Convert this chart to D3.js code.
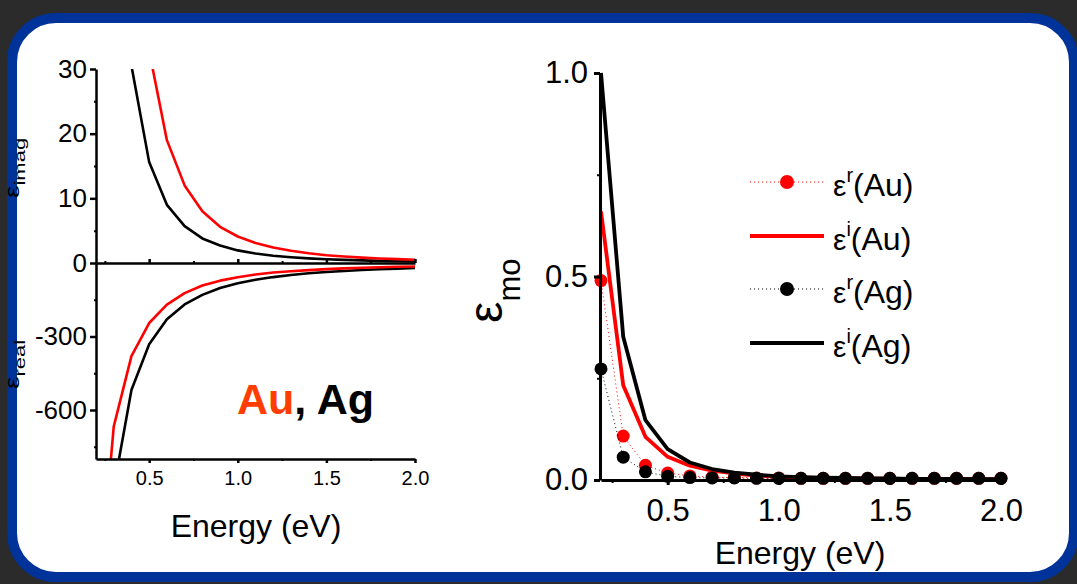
<!DOCTYPE html>
<html lang="en">
<head>
<meta charset="UTF-8">
<title>Au, Ag dielectric functions</title>
<script src="https://d3js.org/d3.v7.min.js"></script>
<style>
  body { margin: 0; background: #2b2b2b; }
  svg { display: block; }
  text { font-family: "Liberation Sans", Arial, sans-serif; fill: #000; }
  .axis path, .axis line { stroke: #000; }
</style>
</head>
<body>
<svg width="1077" height="584"></svg>
<script>
// photon energy (eV), same grid for every series
const energy = [0.2, 0.3, 0.4, 0.5, 0.6, 0.7, 0.8, 0.9, 1.0, 1.1, 1.2, 1.3, 1.4, 1.5, 1.6, 1.7, 1.8, 1.9, 2.0];

// left panel: eps_imag (top) and eps_real (bottom)
const auImag = [512, 152, 64, 32.8, 19.0, 12.0, 8.0, 5.6, 4.1, 3.1, 2.4, 1.9, 1.5, 1.2, 1.0, 0.83, 0.70, 0.60, 0.51];
const agImag = [244, 72, 30.5, 15.6, 9.0, 5.7, 3.8, 2.7, 1.95, 1.47, 1.13, 0.89, 0.71, 0.58, 0.48, 0.40, 0.33, 0.28, 0.24];
const auReal = [-1500, -668, -380, -245, -170, -123, -92, -72, -58, -47, -39, -33.5, -29, -25, -22, -19.5, -17.5, -15.5, -14];
const agReal = [-2070, -920, -518, -332, -230, -169, -130, -102, -83, -68.5, -57.5, -49, -42, -37, -32.5, -28.7, -25.6, -23, -20.7];

// right panel: eps_mo
const auR = [0.49, 0.108, 0.036, 0.017, 0.010, 0.007, 0.006, 0.005, 0.005, 0.004, 0.004, 0.004, 0.004, 0.004, 0.004, 0.004, 0.004, 0.004, 0.004];
const agR = [0.273, 0.056, 0.020, 0.009, 0.006, 0.005, 0.005, 0.004, 0.004, 0.004, 0.004, 0.004, 0.004, 0.004, 0.004, 0.004, 0.004, 0.004, 0.004];
const auI = [0.66, 0.233, 0.106, 0.057, 0.035, 0.023, 0.016, 0.011, 0.008, 0.006, 0.005, 0.004, 0.004, 0.003, 0.003, 0.003, 0.002, 0.002, 0.002];
const agI = [1.0, 0.352, 0.147, 0.076, 0.043, 0.027, 0.018, 0.013, 0.009, 0.007, 0.006, 0.005, 0.004, 0.004, 0.003, 0.003, 0.003, 0.002, 0.002];

const xTicks = [0.5, 1.0, 1.5, 2.0];
const xMinor = [0.25, 0.75, 1.25, 1.75];
const legendMetal = ["Au", "Au", "Ag", "Ag"];
const legendSup = ["r", "i", "r", "i"];

const RED = "#ff0000", BLACK = "#000000";
const svg = d3.select("svg");
// plain hyphen for negative labels, like the original
const hyphen = d => String(d).replace("\u2212", "-");

// frame
svg.append("rect").attr("width", 1077).attr("height", 584).attr("fill", "#2b2b2b");
svg.append("rect")
    .attr("x", 12).attr("y", 18).attr("width", 1062).attr("height", 559)
    .attr("rx", 44).attr("ry", 44)
    .attr("fill", "#fff").attr("stroke", "#003399").attr("stroke-width", 10);

const defs = svg.append("defs");
function clip(id, x, y, w, h) {
    defs.append("clipPath").attr("id", id).append("rect")
        .attr("x", x).attr("y", y).attr("width", w).attr("height", h);
    return "url(#" + id + ")";
}

// ---------- left panel ----------
const xL = d3.scaleLinear().domain([0.2, 2.0]).range([96, 415]);
const yTop = d3.scaleLinear().domain([0, 30]).range([263, 69]);
const yBot = d3.scaleLinear().domain([-800, 0]).range([459, 263]);

const left = svg.append("g");
const clipTop = clip("cTop", 96, 69, 322, 194);
const clipBot = clip("cBot", 96, 263, 322, 196);

function drawLine(g, xs, ys, vals, color, w, clipUrl) {
    const line = d3.line().x((d, i) => xs(energy[i])).y(d => ys(d));
    g.append("path").datum(vals)
        .attr("d", line)
        .attr("fill", "none").attr("stroke", color).attr("stroke-width", w)
        .attr("stroke-linejoin", "round")
        .attr("clip-path", clipUrl);
}

drawLine(left, xL, yTop, agImag, BLACK, 2.6, clipTop);
drawLine(left, xL, yTop, auImag, RED, 2.6, clipTop);
drawLine(left, xL, yBot, agReal, BLACK, 2.6, clipBot);
drawLine(left, xL, yBot, auReal, RED, 2.6, clipBot);

function styleAxis(g, w) {
    g.attr("class", "axis");
    g.selectAll("path, line").attr("stroke-width", w);
    return g;
}

// left x axis (bottom), ticks outward
const lb = left.append("g").attr("transform", "translate(0,459)")
    .call(d3.axisBottom(xL).tickValues(xTicks).tickFormat(d3.format(".1f")).tickSize(4).tickSizeOuter(0));
styleAxis(lb, 2.5);
lb.selectAll("text").attr("dy", null).attr("y", 26).attr("font-size", 20);
left.append("g").attr("transform", "translate(0,459)")
    .call(d3.axisBottom(xL).tickValues(xMinor).tickFormat("").tickSize(2).tickSizeOuter(0))
    .call(g => styleAxis(g, 2).select(".domain").remove());

// zero line with upward ticks
const lz = left.append("g").attr("transform", "translate(0,263)")
    .call(d3.axisTop(xL).tickValues(xTicks).tickFormat("").tickSize(4).tickSizeOuter(0));
styleAxis(lz, 2.5);
left.append("g").attr("transform", "translate(0,263)")
    .call(d3.axisTop(xL).tickValues(xMinor).tickFormat("").tickSize(2).tickSizeOuter(0))
    .call(g => styleAxis(g, 2).select(".domain").remove());

// left y axes
const ly1 = left.append("g").attr("transform", "translate(96,0)")
    .call(d3.axisLeft(yTop).tickValues([0, 10, 20, 30]).tickSize(6).tickSizeOuter(0).tickPadding(3));
styleAxis(ly1, 2.5);
ly1.selectAll("text").attr("font-size", 26);
const ly2 = left.append("g").attr("transform", "translate(96,0)")
    .call(d3.axisLeft(yBot).tickValues([-300, -600]).tickFormat(hyphen).tickSize(6).tickSizeOuter(0).tickPadding(3));
styleAxis(ly2, 2.5);
ly2.selectAll("text").attr("font-size", 26);
left.append("g").attr("transform", "translate(96,0)")
    .call(d3.axisLeft(yTop).tickValues([5, 15, 25]).tickFormat("").tickSize(2))
    .call(g => styleAxis(g, 2).select(".domain").remove());
left.append("g").attr("transform", "translate(96,0)")
    .call(d3.axisLeft(yBot).tickValues([-150, -450, -750]).tickFormat("").tickSize(2))
    .call(g => styleAxis(g, 2).select(".domain").remove());

left.append("text").attr("x", 256).attr("y", 537).attr("text-anchor", "middle")
    .attr("font-size", 32).text("Energy (eV)");

const auag = left.append("text").attr("x", 237).attr("y", 414)
    .attr("font-size", 43).attr("font-weight", "bold");
auag.append("tspan").attr("fill", "#ff3d00").text("Au");
auag.append("tspan").attr("fill", "#000").text(", Ag");

// rotated eps labels (squeezed like the original), laid over the frame edge
function epsLabel(y, sub) {
    const t = svg.append("text")
        .attr("transform", "translate(25," + y + ") rotate(-90) scale(1,0.7)");
    t.append("tspan").attr("font-size", 28).attr("dy", -9).text("\u03b5");
    t.append("tspan").attr("font-size", 22).attr("dy", 9).text(sub);
}
epsLabel(198, "imag");
epsLabel(389, "real");

// ---------- right panel ----------
const xR = d3.scaleLinear().domain([0.2, 2.0]).range([601, 1001]);
const yR = d3.scaleLinear().domain([0, 1.0]).range([480, 73]);
const right = svg.append("g");

function drawDots(vals, color) {
    const line = d3.line().x((d, i) => xR(energy[i])).y(d => yR(d));
    right.append("path").datum(vals).attr("d", line)
        .attr("fill", "none").attr("stroke", color).attr("stroke-width", 1)
        .attr("stroke-dasharray", "1,3");
    right.append("g").selectAll("circle").data(vals).join("circle")
        .attr("cx", (d, i) => xR(energy[i])).attr("cy", d => yR(d))
        .attr("r", 6.5).attr("fill", color);
}
function drawRLine(vals, color) {
    const line = d3.line().x((d, i) => xR(energy[i])).y(d => yR(d));
    right.append("path").datum(vals).attr("d", line)
        .attr("fill", "none").attr("stroke", color).attr("stroke-width", 3.8)
        .attr("stroke-linejoin", "round");
}
drawDots(auR, RED);
drawRLine(auI, RED);
drawDots(agR, BLACK);
drawRLine(agI, BLACK);

const rb = right.append("g").attr("transform", "translate(0,480)")
    .call(d3.axisBottom(xR).tickValues(xTicks).tickFormat(d3.format(".1f")).tickSize(5).tickSizeOuter(0));
styleAxis(rb, 3);
rb.selectAll("text").attr("dy", null).attr("y", 41).attr("font-size", 31);
right.append("g").attr("transform", "translate(0,480)")
    .call(d3.axisBottom(xR).tickValues(xMinor).tickFormat("").tickSize(3).tickSizeOuter(0))
    .call(g => styleAxis(g, 2).select(".domain").remove());

const ry = right.append("g").attr("transform", "translate(600,0)")
    .call(d3.axisLeft(yR).tickValues([0, 0.5, 1.0]).tickFormat(d3.format(".1f")).tickSize(6).tickSizeOuter(0).tickPadding(6));
styleAxis(ry, 3);
ry.selectAll("text").attr("font-size", 31);
right.append("g").attr("transform", "translate(600,0)")
    .call(d3.axisLeft(yR).tickValues([0.25, 0.75]).tickFormat("").tickSize(3))
    .call(g => styleAxis(g, 2).select(".domain").remove());

right.append("text").attr("x", 800).attr("y", 564).attr("text-anchor", "middle")
    .attr("font-size", 32).text("Energy (eV)");

const emo = right.append("text").attr("transform", "translate(502,323) rotate(-90)");
emo.append("tspan").attr("font-size", 48).text("\u03b5");
emo.append("tspan").attr("font-size", 31).attr("dy", 18).text("mo");

// legend
const rows = [182, 236, 289, 343];
const legColors = [RED, RED, BLACK, BLACK];
rows.forEach((ry0, i) => {
    const g = right.append("g");
    if (legendSup[i] === "r") {
        g.append("line").attr("x1", 750).attr("x2", 824).attr("y1", ry0).attr("y2", ry0)
            .attr("stroke", legColors[i]).attr("stroke-width", 1).attr("stroke-dasharray", "1,3");
        g.append("circle").attr("cx", 787).attr("cy", ry0).attr("r", 7).attr("fill", legColors[i]);
    } else {
        g.append("line").attr("x1", 750).attr("x2", 824).attr("y1", ry0).attr("y2", ry0)
            .attr("stroke", legColors[i]).attr("stroke-width", 4);
    }
    const t = g.append("text").attr("x", 833).attr("y", ry0 + 14);
    t.append("tspan").attr("font-size", 30).text("\u03b5");
    t.append("tspan").attr("font-size", 20).attr("dy", -14).text(legendSup[i]);
    t.append("tspan").attr("font-size", 32).attr("dy", 14).text("(" + legendMetal[i] + ")");
});
</script>
</body>
</html>
